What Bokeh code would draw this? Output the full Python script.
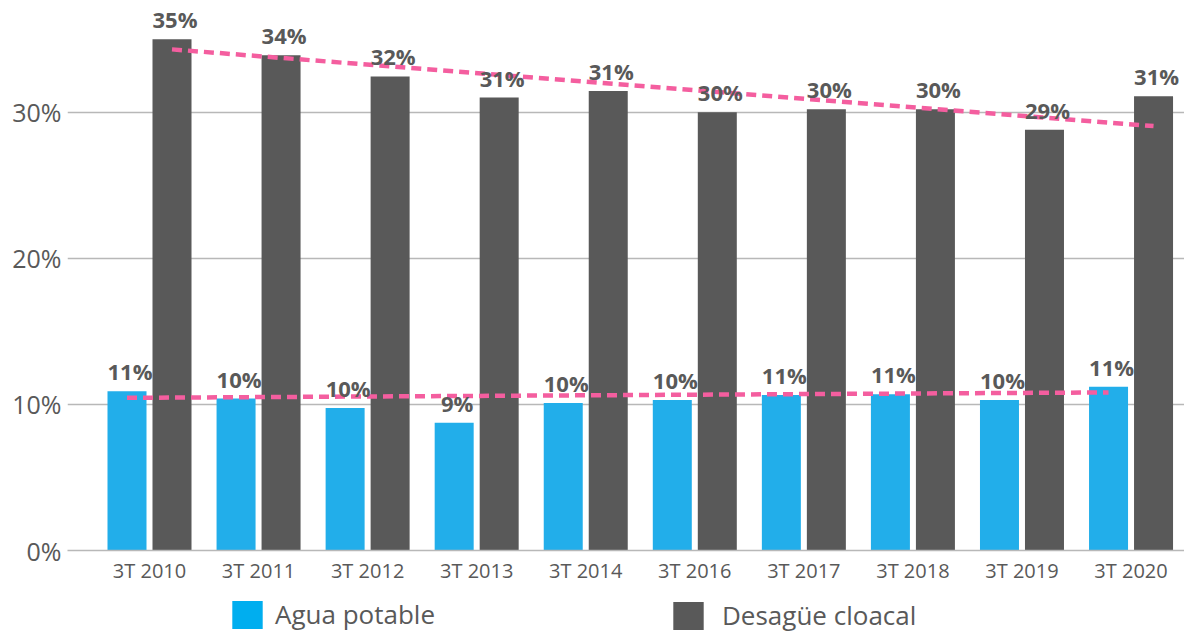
import numpy as np
from bokeh.plotting import figure
from bokeh.layouts import column
from bokeh.models import Range1d, FixedTicker, PrintfTickFormatter, Legend, LegendItem, ColumnDataSource
from bokeh.core.properties import value
from bokeh.embed import file_html
from bokeh.resources import INLINE

# ---- data ----
periods = ["3T 2010", "3T 2011", "3T 2012", "3T 2013", "3T 2014",
           "3T 2016", "3T 2017", "3T 2018", "3T 2019", "3T 2020"]
agua = [10.9, 10.4, 9.75, 8.75, 10.1, 10.3, 10.65, 10.7, 10.3, 11.2]
desague = [35.0, 33.9, 32.45, 31.0, 31.45, 30.0, 30.2, 30.2, 28.8, 31.1]
trend_agua = [10.45, 10.82]      # linear trend, first and last period
trend_desague = [34.3, 29.05]
y_ticks = [0, 10, 20, 30]
series_names = ["Agua potable", "Desagüe cloacal"]

BLUE = "#22AEEA"
BLUE_LEG = "#00AEEF"
DARK = "#595959"
PINK = "#F45E9F"
TXT = "#595959"
FONT = "Open Sans"

W = 1184
H_MAIN, H_LEG = 588, 45
FL = 67                        # frame left border (px)
FRAME_BOTTOM = 550             # px
PX_X = 109.06                  # px per category
PX_Y = 14.61                   # px per percent
X0 = 149.0                     # px of first category centre

xs = np.arange(len(periods))
off = 22.5 / PX_X
bw = 39 / PX_X
lab_dx = 3 / PX_X
lab_dy = 20 / PX_Y

src = ColumnDataSource(dict(
    xa=xs - off, xd=xs + off,
    agua=agua, desague=desague,
    xla=xs - off + lab_dx, xld=xs + off + lab_dx,
    yla=np.array(agua) + lab_dy, yld=np.array(desague) + lab_dy,
    la=[f"{int(v + 0.5)}%" for v in agua],
    ld=[f"{int(v + 0.5)}%" for v in desague],
))

x_start = (FL - X0) / PX_X
x_end = (W - X0) / PX_X
y_end = FRAME_BOTTOM / PX_Y

p = figure(width=W, height=H_MAIN, output_backend="svg", toolbar_location=None,
           x_range=Range1d(x_start, x_end), y_range=Range1d(0, y_end),
           min_border_left=FL, min_border_right=0, min_border_top=0,
           min_border_bottom=H_MAIN - FRAME_BOTTOM)
p.outline_line_color = None
p.background_fill_color = "white"
p.border_fill_color = "white"

p.vbar(x="xa", top="agua", width=bw, source=src, fill_color=BLUE, line_color=None)
p.vbar(x="xd", top="desague", width=bw, source=src, fill_color=DARK, line_color=None)

p.line(x=[xs[0] - off, xs[-1] - off], y=trend_agua, line_color=PINK, line_width=4.5, line_dash="10 6")
p.line(x=[xs[0] + off, xs[-1] + off], y=trend_desague, line_color=PINK, line_width=4.5, line_dash="10 6")

for xcol, ycol, lcol in (("xla", "yla", "la"), ("xld", "yld", "ld")):
    p.text(x=xcol, y=ycol, text=lcol, source=src, text_font=value(FONT), text_font_style="bold",
           text_font_size="22px", text_color=TXT, text_align="center", text_baseline="alphabetic")

# axes
p.xgrid.visible = False
p.ygrid.ticker = FixedTicker(ticks=y_ticks)
p.ygrid.grid_line_color = "#B8B8B8"
p.ygrid.grid_line_width = 1.5

p.yaxis.ticker = FixedTicker(ticks=y_ticks)
p.yaxis.formatter = PrintfTickFormatter(format="%d%%")
p.yaxis.axis_line_color = None
p.yaxis.major_tick_line_color = None
p.yaxis.minor_tick_line_color = None
p.yaxis.major_tick_out = 0
p.yaxis.major_label_text_font = FONT
p.yaxis.major_label_text_font_size = "25px"
p.yaxis.major_label_text_color = TXT
p.yaxis.major_label_standoff = 6

p.xaxis.ticker = FixedTicker(ticks=list(xs))
p.xaxis.major_label_overrides = {int(i): s for i, s in zip(xs, periods)}
p.xaxis.axis_line_color = "#B8B8B8"
p.xaxis.axis_line_width = 1.5
p.xaxis.major_tick_line_color = None
p.xaxis.minor_tick_line_color = None
p.xaxis.major_tick_out = 0
p.xaxis.major_label_text_font = FONT
p.xaxis.major_label_text_font_size = "20px"
p.xaxis.major_label_text_color = TXT
p.xaxis.major_label_standoff = 6

# ---- legend strip (frame aligned with the chart's frame) ----
p2 = figure(width=W, height=H_LEG, output_backend="svg", toolbar_location=None,
            x_axis_type=None, y_axis_type=None, x_range=Range1d(0, 1), y_range=Range1d(0, 1),
            min_border_left=0, min_border_right=0, min_border_top=0, min_border_bottom=0)
p2.outline_line_color = None
p2.border_fill_color = "white"
p2.background_fill_color = "white"
# legend-key renderers: one zero-height sample each (nothing visible is drawn)
la_r = p2.vbar(x=[0.5], top=[0], width=0.1, fill_color=BLUE_LEG, line_color=None)
ld_r = p2.vbar(x=[0.5], top=[0], width=0.1, fill_color=DARK, line_color=None)

def mk_legend(label, rend, loc, standoff):
    return Legend(items=[LegendItem(label=label, renderers=[rend])], location=loc,
                  orientation="horizontal", padding=0, margin=0, spacing=0,
                  border_line_color=None, background_fill_alpha=0,
                  glyph_width=38, glyph_height=35, label_height=35, label_standoff=standoff,
                  label_text_font=FONT, label_text_font_size="26px", label_text_color=TXT)

p2.add_layout(mk_legend(series_names[0], la_r, (228 - FL, 1), 9), "center")
p2.add_layout(mk_legend(series_names[1], ld_r, (669 - FL, 0), 15), "center")

layout = column(p, p2, spacing=0)
open("out.html", "w").write(file_html(layout, INLINE))
